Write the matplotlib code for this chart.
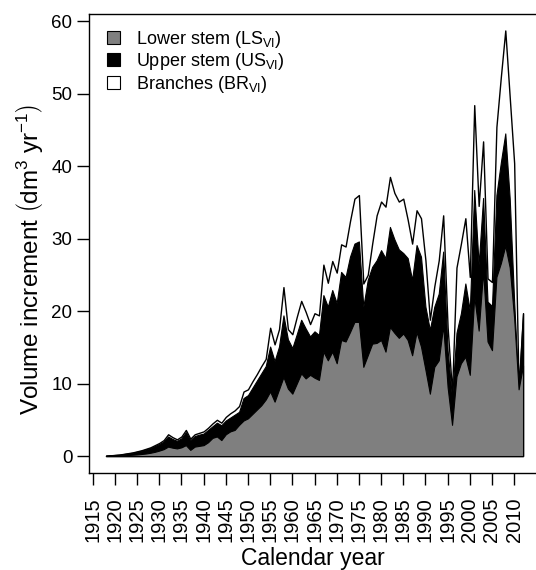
import numpy as np
import matplotlib
matplotlib.use('Agg')
import matplotlib.pyplot as plt
from matplotlib.patches import Patch

plt.rcParams['font.family'] = 'Liberation Sans'
plt.rcParams['mathtext.fontset'] = 'custom'
plt.rcParams['mathtext.rm'] = 'Liberation Sans'
plt.rcParams['mathtext.it'] = 'Liberation Sans:italic'

# Годы (1918-2012)
years = np.arange(1918, 2013)

# Суммарный прирост (верхняя белая область)
total = [0.05, 0.1, 0.15, 0.2, 0.3, 0.4, 0.5, 0.65, 0.8, 1.0,
         1.2, 1.5, 1.8, 2.2, 3.0, 2.6, 2.3, 2.7, 3.6, 2.4,
         3.0, 3.2, 3.4, 3.9, 4.5, 5.0, 4.6, 5.4, 5.9, 6.3,
         6.9, 8.9, 9.2, 10.3, 11.3, 12.4, 13.4, 17.7, 15.4, 17.5,
         23.3, 17.5, 16.8, 19.2, 21.4, 19.9, 18.2, 19.7, 19.4, 26.4,
         23.9, 26.9, 25.3, 29.2, 28.9, 32.4, 35.5, 36.0, 23.8, 25.0,
         29.3, 33.2, 35.1, 34.4, 38.5, 36.3, 35.1, 35.5, 32.6, 29.3,
         33.9, 32.8, 27.0, 18.8, 23.4, 27.0, 33.2, 17.8, 8.8, 26.0,
         29.3, 32.8, 24.7, 48.4, 34.5, 43.4, 24.5, 24.0, 45.4, 52.3,
         58.7, 49.5, 40.4, 9.2, 19.7]

# Нижний + верхний ствол (чёрная область)
stems = [0.05, 0.1, 0.15, 0.2, 0.28, 0.37, 0.46, 0.6, 0.74, 0.92,
         1.1, 1.38, 1.65, 2.0, 2.7, 2.35, 2.1, 2.45, 3.3, 2.2,
         2.75, 2.95, 3.1, 3.6, 4.1, 4.6, 4.25, 4.9, 5.3, 5.7,
         6.1, 8.0, 8.4, 9.4, 10.4, 11.4, 12.4, 15.1, 13.1, 15.1,
         19.4, 16.1, 14.9, 16.8, 18.8, 17.6, 16.5, 17.2, 16.7, 22.2,
         20.6, 22.9, 21.1, 25.4, 24.7, 27.5, 29.3, 29.6, 20.6, 24.3,
         26.1, 27.0, 28.4, 27.3, 31.6, 29.9, 28.5, 28.0, 27.3, 24.3,
         29.1, 27.5, 20.6, 17.4, 20.6, 22.4, 28.2, 14.6, 8.0, 17.0,
         19.7, 23.8, 20.1, 36.7, 26.4, 35.6, 21.3, 20.7, 36.0, 40.5,
         44.5, 35.5, 21.3, 9.2, 19.7]

# Нижний ствол (серая область)
lower = [0.02, 0.04, 0.06, 0.08, 0.1, 0.14, 0.18, 0.22, 0.28, 0.35,
         0.45, 0.58, 0.75, 0.95, 1.3, 1.15, 1.05, 1.2, 1.5, 0.85,
         1.3, 1.4, 1.5, 1.9, 2.5, 2.7, 2.2, 3.0, 3.4, 3.6,
         4.3, 4.9, 5.2, 5.8, 6.4, 7.0, 7.8, 8.9, 7.5, 9.2,
         10.9, 9.3, 8.6, 10.0, 11.4, 10.7, 11.2, 10.8, 10.5, 14.4,
         13.2, 14.4, 12.8, 16.0, 15.8, 17.1, 18.5, 18.5, 12.3, 13.9,
         15.5, 15.6, 16.0, 14.4, 17.8, 17.0, 16.3, 16.9, 16.0, 13.9,
         17.1, 15.1, 11.9, 8.6, 12.3, 13.2, 18.0, 9.5, 4.3, 11.0,
         12.8, 13.7, 11.2, 22.0, 17.3, 25.5, 15.8, 14.6, 24.7, 26.6,
         29.0, 26.0, 19.0, 9.2, 12.5]

xticks = np.arange(1915, 2011, 5)
yticks = np.arange(0, 61, 10)

fig = plt.figure(figsize=(5.36, 5.70), dpi=100)
ax = fig.add_axes([89 / 536, 97 / 570, 450 / 536, 459 / 570])

ax.fill_between(years, 0, total, facecolor='white', edgecolor='black', linewidth=1.0)
ax.fill_between(years, 0, stems, facecolor='black', edgecolor='black', linewidth=0.8)
ax.fill_between(years, 0, lower, facecolor='#7f7f7f', edgecolor='black', linewidth=0.8)

ax.set_xlim(1914.17, 2015.6)
ax.set_ylim(-2.34, 60.97)
ax.set_xticks(xticks)
ax.set_xticklabels([str(y) for y in xticks], rotation=90)
ax.set_yticks(yticks)
ax.tick_params(axis='x', direction='out', length=8.5, width=1, pad=9, labelsize=14.5)
ax.tick_params(axis='y', direction='out', length=8.5, width=1, pad=3.5, labelsize=13.5)
for s in ax.spines.values():
    s.set_linewidth(1)

handles = [Patch(facecolor='#7f7f7f', edgecolor='black', linewidth=0.8),
           Patch(facecolor='black', edgecolor='black', linewidth=0.8),
           Patch(facecolor='white', edgecolor='black', linewidth=0.8)]
labels = [r'Lower stem (LS$_{\mathrm{VI}}$)',
          r'Upper stem (US$_{\mathrm{VI}}$)',
          r'Branches (BR$_{\mathrm{VI}}$)']
ax.legend(handles, labels, loc='upper left', bbox_to_anchor=(0.04, 0.968),
          frameon=False, fontsize=13, handlelength=0.7, handleheight=0.7,
          handletextpad=0.9, labelspacing=0.08, borderpad=0, borderaxespad=0)

fig.text(30 / 536, 1 - 259 / 570,
         r'Volume increment $\left(\mathrm{dm}^{3}\ \mathrm{yr}^{-1}\right)$',
         rotation=90, ha='center', va='center', fontsize=17.5)
fig.text(313 / 536, 1 - 559 / 570, 'Calendar year', ha='center', va='center', fontsize=16.5)

plt.savefig('out.png', dpi=100)
